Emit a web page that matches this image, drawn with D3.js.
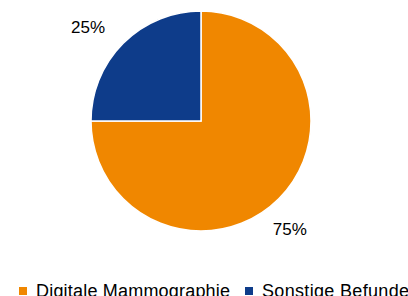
<!DOCTYPE html>
<html>
<head>
<meta charset="utf-8">
<script src="https://cdn.jsdelivr.net/npm/d3@7"></script>
<style>
  body { margin: 0; background: #fff; }
  text { font-family: "Liberation Sans", Arial, sans-serif; fill: #000; }
</style>
</head>
<body>
<svg id="chart" width="408" height="296"></svg>
<script>
var categories = ["Digitale Mammographie", "Sonstige Befunde"];
var values = [75, 25];
var colors = ["#F08700", "#0E3C8A"];

var svg = d3.select("#chart"),
    cx = 201,
    cy = 121,
    radius = 110;

var data = categories.map(function (c, i) {
    return { name: c, value: values[i], color: colors[i] };
});

var pie = d3.pie()
    .sort(null)
    .value(function (d) { return d.value; });

var arc = d3.arc().innerRadius(0).outerRadius(radius);

var g = svg.append("g").attr("transform", "translate(" + cx + "," + cy + ")");

var arcs = pie(data);

g.selectAll("path")
    .data(arcs)
    .enter().append("path")
    .attr("d", arc)
    .attr("fill", function (d) { return d.data.color; })
    .attr("stroke", "#fff")
    .attr("stroke-width", 1.5);

// data labels sit outside the pie, "best fit" style (angle in degrees, distance from centre)
var labelPos = [{ angle: 140.6, dist: 140 }, { angle: -50.2, dist: 147 }];

g.selectAll(".lbl")
    .data(arcs)
    .enter().append("text")
    .attr("class", "lbl")
    .attr("transform", function (d, i) {
        var a = labelPos[i].angle * Math.PI / 180;
        var p = d3.arc().innerRadius(labelPos[i].dist).outerRadius(labelPos[i].dist)
            .centroid({ startAngle: a, endAngle: a });
        return "translate(" + p + ")";
    })
    .attr("text-anchor", "middle")
    .attr("dy", "0.36em")
    .style("font-size", "17px")
    .text(function (d) { return d.data.value + "%"; });

// legend (cut by the bottom edge, as in the original)
var legendX = [19, 245];
var legendW = [194, 147];
var legend = svg.append("g");
data.forEach(function (d, i) {
    var item = legend.append("g").attr("transform", "translate(" + legendX[i] + ",0)");
    item.append("rect")
        .attr("x", 0).attr("y", 287)
        .attr("width", 8).attr("height", 8)
        .attr("fill", d.color);
    item.append("text")
        .attr("x", 17).attr("y", 296.5)
        .attr("textLength", legendW[i])
        .attr("lengthAdjust", "spacing")
        .style("font-size", "18px")
        .text(d.name);
});
</script>
</body>
</html>
